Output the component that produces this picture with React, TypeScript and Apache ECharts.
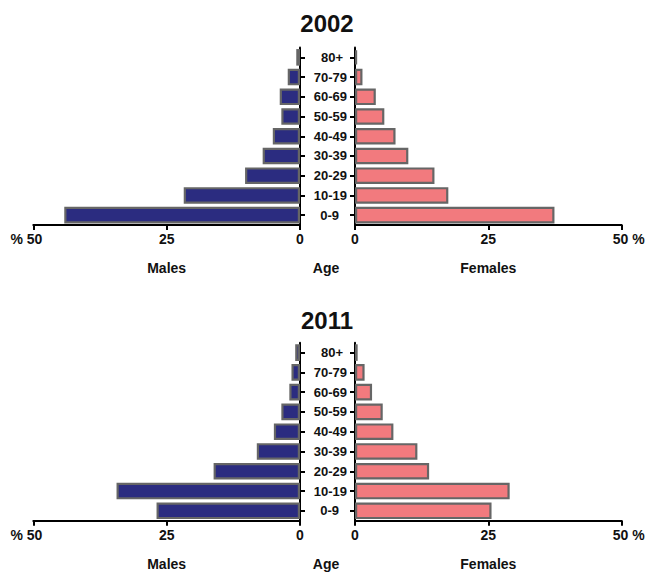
import React, { useEffect, useRef } from "react";
import * as echarts from "echarts";

const ageGroups = ["0-9", "10-19", "20-29", "30-39", "40-49", "50-59", "60-69", "70-79", "80+"];
const males2002 = [44.2, 21.8, 10.3, 7.0, 5.1, 3.5, 3.8, 2.3, 0.7];
const females2002 = [37.4, 17.5, 14.9, 10.0, 7.6, 5.5, 3.9, 1.4, 0.4];
const males2011 = [26.9, 34.4, 16.2, 8.1, 4.9, 3.5, 2.0, 1.6, 0.9];
const females2011 = [25.6, 29.0, 13.9, 11.7, 7.2, 5.2, 3.2, 1.8, 0.5];
const years = ["2002", "2011"];
const xTicks = [0, 25, 50];

const FONT = '"Liberation Sans", Arial, Helvetica, sans-serif';
const INK = "#111111";
const MALE = "#2B2C80";
const FEMALE = "#F27A7E";
const BORDER = "#666666";

export default function App() {
  const ref = useRef<HTMLDivElement>(null);

  useEffect(() => {
    if (!ref.current) return;
    const chart = echarts.init(ref.current, undefined, { renderer: "svg" });

    const grids = [
      { left: 33.33, top: 47.5, width: 266.67, height: 177.5 },
      { left: 355, top: 47.5, width: 266.67, height: 177.5 },
      { left: 33.33, top: 342.7, width: 266.67, height: 178 },
      { left: 355, top: 342.7, width: 266.67, height: 178 },
    ];

    const lineStyle = { color: "#000", width: 2 };
    const labelBase = { color: INK, fontFamily: FONT, fontWeight: "bold" as const, fontSize: 14 };

    const xAxis = (gridIndex: number, male: boolean, name: string) => ({
      type: "value",
      gridIndex,
      min: xTicks[0],
      max: xTicks[2],
      interval: 25,
      inverse: male,
      position: "bottom",
      name,
      nameLocation: "middle",
      nameGap: 36,
      nameTextStyle: { ...labelBase, verticalAlign: "top" },
      axisLine: { show: true, lineStyle },
      axisTick: { show: true, length: 5, lineStyle },
      splitLine: { show: false },
      axisLabel: {
        ...labelBase,
        margin: 7,
        formatter: (v: number) =>
          v === 50 ? (male ? "{l|% 50}" : "{r|50 %}") : String(v),
        rich: {
          l: { ...labelBase, padding: [0, 14, 0, 0] },
          r: { ...labelBase, padding: [0, 0, 0, 14] },
        },
      },
    });

    const yAxis = (gridIndex: number, male: boolean) => ({
      type: "category",
      gridIndex,
      data: ageGroups,
      position: male ? "right" : "left",
      axisLine: { show: true, onZero: false, lineStyle },
      axisTick: { show: true, alignWithLabel: true, length: 5, lineStyle },
      splitLine: { show: false },
      axisLabel: male
        ? { show: false }
        : {
            ...labelBase,
            fontSize: 13,
            margin: 8,
            formatter: (v: string) =>
              v === "0-9" ? `{a|${v}}` : v === "80+" ? `{b|${v}}` : v,
            rich: {
              a: { ...labelBase, fontSize: 13, padding: [0, 8, 0, 0] },
              b: { ...labelBase, fontSize: 13, padding: [0, 4, 0, 0] },
            },
          },
    });

    const bar = (i: number, data: number[], color: string) => ({
      type: "bar",
      xAxisIndex: i,
      yAxisIndex: i,
      data,
      barWidth: "84%",
      itemStyle: { color, borderColor: BORDER, borderWidth: 2.2 },
    });

    const titleStyle = { fontSize: 24, fontWeight: "bold" as const, color: INK, fontFamily: FONT };

    chart.setOption({
      animation: false,
      backgroundColor: "#ffffff",
      title: [
        { text: years[0], left: 327, top: 11.5, textAlign: "center", padding: 0, textStyle: titleStyle },
        { text: years[1], left: 327, top: 308, textAlign: "center", padding: 0, textStyle: titleStyle },
      ],
      grid: grids,
      xAxis: [
        xAxis(0, true, "Males"),
        xAxis(1, false, "Females"),
        xAxis(2, true, "Males"),
        xAxis(3, false, "Females"),
      ],
      yAxis: [yAxis(0, true), yAxis(1, false), yAxis(2, true), yAxis(3, false)],
      series: [
        bar(0, males2002, MALE),
        bar(1, females2002, FEMALE),
        bar(2, males2011, MALE),
        bar(3, females2011, FEMALE),
      ],
      graphic: [
        {
          type: "text",
          x: 326,
          y: 261,
          style: { text: "Age", align: "center", verticalAlign: "top", fill: INK, font: `bold 14px ${FONT}` },
        },
        {
          type: "text",
          x: 326,
          y: 556.7,
          style: { text: "Age", align: "center", verticalAlign: "top", fill: INK, font: `bold 14px ${FONT}` },
        },
      ],
    });

    return () => chart.dispose();
  }, []);

  return (
    <div
      ref={ref}
      style={{ position: "absolute", left: 0, top: 0, width: 649, height: 573, background: "#fff" }}
    />
  );
}
